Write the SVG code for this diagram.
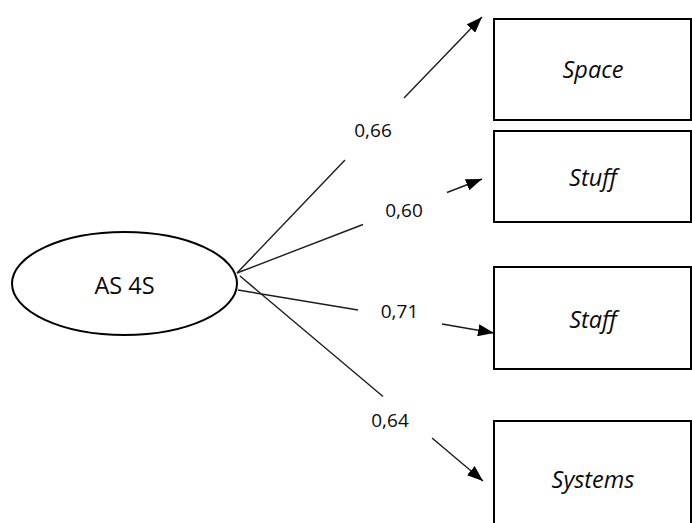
<svg xmlns="http://www.w3.org/2000/svg" width="692" height="523" viewBox="0 0 692 523">
  <defs>
    <marker id="arrow" viewBox="0 0 16 12" refX="16" refY="6" markerWidth="16" markerHeight="12" markerUnits="userSpaceOnUse" orient="auto">
      <path d="M0,0 L16,6 L0,12 Z" fill="#000"/>
    </marker>
    <style>
      .node { fill: #fff; stroke: #000; stroke-width: 2; }
      .label { font-family: "Open Sans", "Liberation Sans", sans-serif; fill: #0a0a0a; text-anchor: middle; }
      .item { font-size: 23.5px; font-style: italic; }
      .latent { font-size: 23.5px; }
      .coef { font-size: 19px; }
      .edge { stroke: #1c1c1c; stroke-width: 1.4; fill: none; }
    </style>
  </defs>
  <rect width="692" height="523" fill="#fff"/>

  <!-- paths from the latent factor, each broken around its loading -->
  <g id="connectors">
    <line class="edge" x1="237" y1="273" x2="345" y2="160"/>
    <line class="edge" x1="404" y1="98" x2="482" y2="17" marker-end="url(#arrow)"/>
    <line class="edge" x1="237" y1="273" x2="363" y2="224.5"/>
    <line class="edge" x1="447" y1="192.5" x2="482" y2="179" marker-end="url(#arrow)"/>
    <line class="edge" x1="238" y1="290" x2="358" y2="310"/>
    <line class="edge" x1="442" y1="324" x2="494" y2="333" marker-end="url(#arrow)"/>
    <line class="edge" x1="240" y1="276" x2="383" y2="396.5"/>
    <line class="edge" x1="432" y1="438" x2="483" y2="481" marker-end="url(#arrow)"/>
    <text class="label coef" x="373" y="137">0,66</text>
    <text class="label coef" x="404" y="217">0,60</text>
    <text class="label coef" x="399.5" y="318">0,71</text>
    <text class="label coef" x="390" y="427">0,64</text>
  </g>

  <g id="as4s">
    <ellipse class="node" cx="124.5" cy="283.5" rx="112.5" ry="51.5"/>
    <text class="label latent" x="124.5" y="294">AS 4S</text>
  </g>

  <g id="space">
    <rect class="node" x="494" y="19" width="197" height="101"/>
    <text class="label item" x="593" y="78">Space</text>
  </g>

  <g id="stuff">
    <rect class="node" x="494" y="131" width="197" height="91"/>
    <text class="label item" x="593" y="186">Stuff</text>
  </g>

  <g id="staff">
    <rect class="node" x="494" y="267" width="197" height="102"/>
    <text class="label item" x="593" y="328">Staff</text>
  </g>

  <g id="systems">
    <rect class="node" x="494" y="421" width="197" height="106"/>
    <text class="label item" x="593" y="488">Systems</text>
  </g>
</svg>
